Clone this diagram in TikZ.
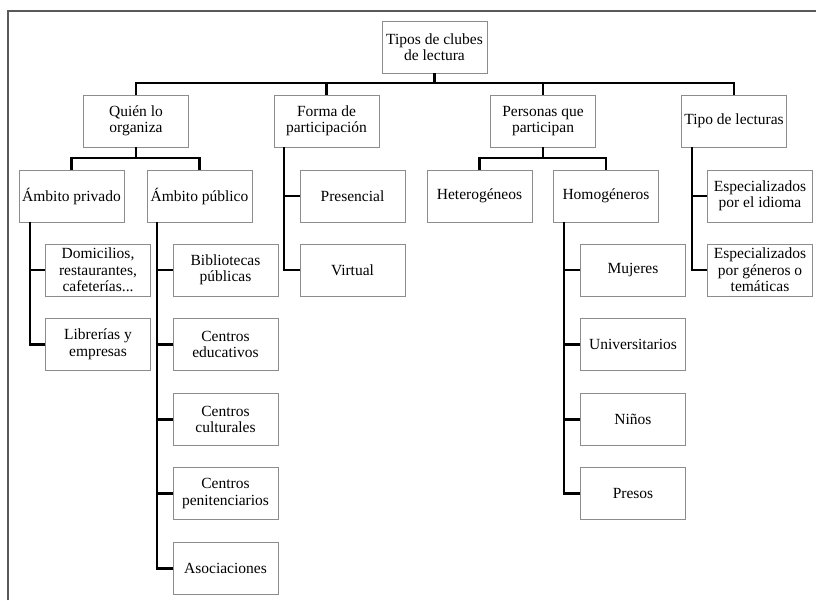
\documentclass[tikz,border=0pt]{standalone}
\usepackage{fontspec}
\setmainfont{Liberation Serif}
\begin{document}
\begin{tikzpicture}[x=1pt,y=-1pt,
  box/.style={draw=black!45, line width=0.9pt, minimum width=105pt, minimum height=52pt,
    align=center, inner sep=1pt, font=\fontsize{15.5}{16.5}\selectfont, fill=white},
  wbox/.style={box, minimum width=106pt},
  conn/.style={line width=2.6pt, black},
  frame/.style={line width=1.5pt, black!65}]
\useasboundingbox (0,0) rectangle (816,600);
\draw[frame] (8,600) -- (8,11) -- (816,11);

% root and level 1
\node[box] (root) at (434.5,47) {Tipos de clubes\\de lectura};
\node[box] (q) at (136,121) {Quién lo\\organiza};
\node[box] (f) at (326.5,121) {Forma de\\participación};
\node[box] (p) at (543,121) {Personas que\\participan};
\node[box] (t) at (734,121) {Tipo de lecturas};

% level 2
\node[box] (priv) at (71.5,196) {Ámbito privado};
\node[box] (pub) at (199.5,196) {Ámbito público};
\node[box] (pres) at (352.5,196) {Presencial};
\node[box] (het) at (479.5,196) {Heterogéneos};
\node[box] (hom) at (606,196) {Homogéneros};
\node[box] (esp1) at (760,196) {Especializados\\por el idioma};

% level 3
\node[box] (dom) at (98,270) {Domicilios,\\restaurantes,\\cafeterías...};
\node[box] (lib) at (98,344.5) {Librerías y\\empresas};
\node[box] (bib) at (225.5,270) {Bibliotecas\\públicas};
\node[box] (edu) at (225.5,344.5) {Centros\\educativos};
\node[box] (cul) at (225.5,419.5) {Centros\\culturales};
\node[box] (pen) at (225.5,493.5) {Centros\\penitenciarios};
\node[box] (aso) at (225.5,568.5) {Asociaciones};
\node[box] (virt) at (352.5,270) {Virtual};
\node[box] (muj) at (633,270) {Mujeres};
\node[box] (uni) at (633,344.5) {Universitarios};
\node[box] (nin) at (633,419.5) {Niños};
\node[box] (pre) at (633,493.5) {Presos};
\node[box] (esp2) at (760,270) {Especializados\\por géneros o\\temáticas};

% bus coordinates
\coordinate (b0) at (434.5,83);
\coordinate (bq) at (136,158);
\coordinate (bp) at (543,158);
\coordinate (xf) at (284,0);
\coordinate (xt) at (692,0);
\coordinate (xpriv) at (30,0);
\coordinate (xpub) at (157,0);
\coordinate (xhom) at (564,0);

% root connectors
\draw[conn] (root.south) -- (b0);
\draw[conn] (q.north) |- (b0) -| (t.north);
\draw[conn] (f.north) -- (f.north |- b0);
\draw[conn] (p.north) -- (p.north |- b0);

% Quién lo organiza
\draw[conn] (q.south) -- (bq);
\draw[conn] (priv.north) |- (bq) -| (pub.north);
% Personas
\draw[conn] (p.south) -- (bp);
\draw[conn] (het.north) |- (bp) -| (hom.north);

% Forma de participación
\draw[conn] (xf |- f.south) |- (virt.west);
\draw[conn] (pres.west) -- (pres.west -| xf);
% Tipo de lecturas
\draw[conn] (xt |- t.south) |- (esp2.west);
\draw[conn] (esp1.west) -- (esp1.west -| xt);

% Ámbito privado
\draw[conn] (xpriv |- priv.south) |- (lib.west);
\draw[conn] (dom.west) -- (dom.west -| xpriv);
% Ámbito público
\draw[conn] (xpub |- pub.south) |- (aso.west);
\foreach \n in {bib,edu,cul,pen} \draw[conn] (\n.west) -- (\n.west -| xpub);
% Homogéneros
\draw[conn] (xhom |- hom.south) |- (pre.west);
\foreach \n in {muj,uni,nin} \draw[conn] (\n.west) -- (\n.west -| xhom);
\end{tikzpicture}
\end{document}
